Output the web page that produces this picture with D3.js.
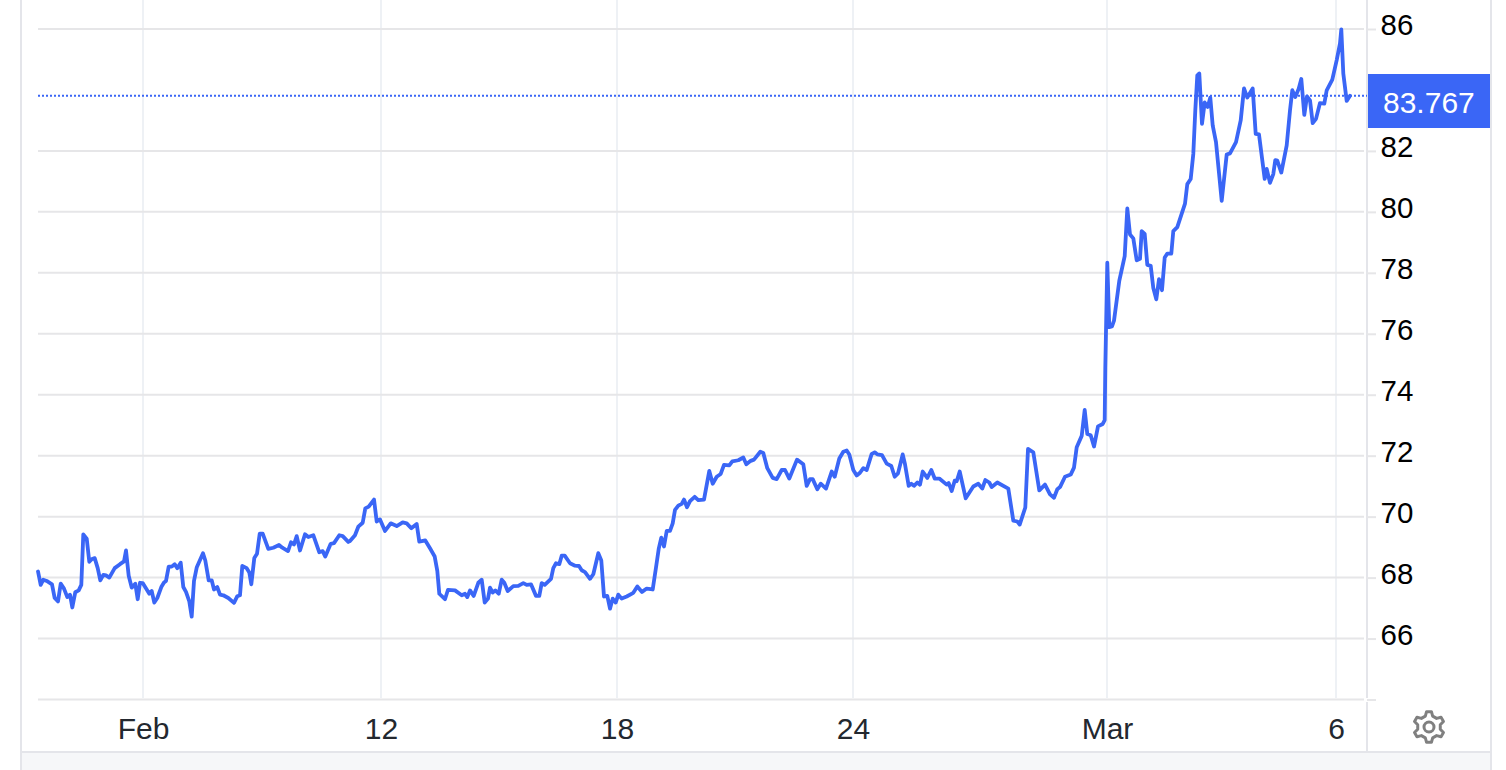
<!DOCTYPE html>
<html>
<head>
<meta charset="utf-8">
<script src="https://cdnjs.cloudflare.com/ajax/libs/d3/7.8.5/d3.min.js"></script>
<style>
html,body{margin:0;padding:0;background:#fff;overflow:hidden}
svg{display:block}
text{font-family:"Liberation Sans",Arial,sans-serif}
</style>
</head>
<body>
<svg id="chart" width="1506" height="770"></svg>
<script>
// time position of each sample, in chart time slots (irregular)
const slots = [0,2.7,5.3,8.7,14,16.7,20,22.7,26,29.3,32,34.3,37.3,40.7,43.3,45.3,48.7,51.3,54,56.7,59.7,62.3,65.3,68,71.3,76.7,82,86,88,90.7,93.7,97.3,99.7,102,104.7,108.7,111.3,113.7,116.3,119.3,123.3,126,128,130.7,133.7,136.7,139.3,142.7,145.3,148,151.3,153.7,156,158.7,165,167.3,170.7,173.7,176,179.3,182,185.3,190.3,196,199.3,202,204.3,208.7,211.3,213.3,216.3,219,221.7,224.7,230.3,235.3,241,244.3,250,253,256,258.7,262,267,270.3,275.3,281.3,284.7,287.3,292.7,296,301.3,304.7,310.3,
312,317,320.3,324.7,327.3,330.7,336,338.7,342,347,352.7,358.7,364.7,368.7,373.3,378.7,381.3,387.3,392,396.7,399.3,401.3,407,410,417,423.7,427,429.3,432,435.7,440.3,443.7,446.7,450,452,454.7,457.3,460.7,463.7,466.3,469.7,475.3,480.3,485.3,488.7,493,498,501.3,503.7,506.7,513,515.3,518,521.3,523.7,526.7,532,537,541,543.7,547,552,555.3,560.3,563.3,566,569.3,572,574.7,577.7,580.3,583.7,588.7,595.3,599.3,604,608.7,614.7,618,620.7,623.3,626,628.7,632,634.7,637,640.3,643.7,646,649,652,
656.7,660.3,666,671.3,674.7,678.7,682.7,686,691.3,694.3,700.3,705.3,708.3,712.7,716,722.3,725.3,729.3,734.7,738.7,743.7,747,751.3,759,765.3,768.7,772,774.7,779.3,782.7,788,793.7,796.7,801.3,805.3,808.7,811.3,815.3,818.7,822,825.3,828.7,833.7,837,839.3,844,848.7,853.3,856.7,860,864.7,867,870.7,873.3,876,879.3,882,884.7,889.3,893.3,896.7,901.3,908.7,910.7,913.7,916.7,918.7,921.7,927.7,935.3,940.3,944.3,947.3,951.3,953.7,959.3,970.3,975.3,979.3,981.7,987.3,990,995.3,1001.3,1007,1012,1016,1019.3,1022,1027,1032.7,1036,1038.7,1043.7,1046.7,1049.3,1052.7,
1056,1060,1064.7,1066.7,1067.3,1069.3,1071.3,1074,1076,1081.3,1086.7,1089.3,1092,1095.3,1098.7,1102,1103.7,1106.7,1109.3,1112.7,1115.3,1118.3,1121,1124,1126.7,1129.3,1133.3,1135.3,1139.3,
1147,1149.3,1152.7,1155.3,1157.3,1159.3,1161.3,1164,1166.7,1169.7,1172.3,1174.7,1178,1183.7,1188.7,1192,1198,1202.7,1206,1209.3,1214.7,1217.7,1221,1226.7,1228.7,1232,1235.3,1237.3,1239.3,1243.3,1248.7,1252,1254.3,1257.3,1260.7,1263.3,1266.3,1269,1272,1274.7,1278,1282,1286.3,1288.7,1294.3,1298.7,1302,1303.3,1305.3,1308.7,1312];

// price at each sample
const prices = [68.2,67.76,67.93,67.89,67.78,67.33,67.22,67.8,67.64,67.36,67.44,67.02,67.52,67.58,67.76,69.42,69.28,68.52,68.61,68.64,68.31,67.91,68.09,68.07,68.0,68.31,68.44,68.53,68.89,68.06,67.67,67.8,67.29,67.83,67.82,67.61,67.47,67.56,67.18,67.33,67.69,67.84,67.89,68.36,68.36,68.44,68.31,68.49,67.69,67.53,67.22,66.72,67.89,68.33,68.8,68.56,67.91,67.91,67.61,67.69,67.44,67.42,67.33,67.17,67.39,67.42,68.38,68.31,68.17,67.78,68.64,68.78,69.44,69.44,68.94,68.98,69.07,68.98,68.87,69.16,69.09,69.36,68.89,69.42,69.33,69.39,68.83,68.87,68.69,69.11,69.13,69.39,69.36,69.17,
69.2,69.39,69.67,69.8,70.27,70.33,70.56,69.84,69.91,69.53,69.78,69.69,69.81,69.78,69.62,69.76,69.18,69.22,68.96,68.69,68.22,67.47,67.29,67.6,67.58,67.42,67.47,67.36,67.58,67.4,67.83,67.93,67.18,67.31,67.67,67.51,67.58,67.47,67.93,67.83,67.56,67.72,67.73,67.82,67.76,67.78,67.4,67.4,67.82,67.76,67.96,68.31,68.47,68.44,68.72,68.72,68.47,68.39,68.38,68.24,68.18,67.96,68.11,68.8,68.56,67.38,67.4,66.98,67.31,67.18,67.44,67.31,67.38,67.5,67.71,67.53,67.64,67.61,68.33,68.94,69.31,69.02,69.53,69.53,69.78,70.22,70.36,70.42,70.56,70.31,70.51,
70.65,70.54,70.56,71.5,71.08,71.31,71.4,71.7,71.68,71.81,71.85,71.94,71.72,71.83,71.87,72.13,72.09,71.59,71.27,71.23,71.53,71.53,71.25,71.87,71.72,71.01,71.23,71.23,70.9,71.08,70.92,71.48,71.31,71.91,72.13,72.17,72.04,71.53,71.35,71.44,71.59,71.53,72.06,72.11,72.04,72.02,71.74,71.66,71.31,71.42,72.04,71.72,71.01,71.08,71.01,71.12,71.05,71.48,71.27,71.53,71.25,71.25,71.05,71.1,70.84,71.18,71.16,71.48,70.6,70.99,71.08,70.92,71.2,71.12,70.97,71.12,70.92,69.87,69.84,69.74,70.3,72.22,72.11,70.86,71.05,70.73,70.62,70.9,70.97,71.31,71.38,71.61,72.28,72.65,73.5,72.71,72.67,
72.3,72.96,73.04,73.17,74.9,78.33,76.22,76.24,76.43,77.74,78.55,80.11,79.26,79.13,78.41,78.46,79.37,79.28,78.26,78.23,77.5,77.13,77.79,77.43,78.5,78.63,78.63,79.37,79.5,
80.27,80.91,81.08,81.9,83.33,84.48,84.54,82.89,83.59,83.44,83.75,82.84,82.29,80.36,81.88,81.92,82.29,83,84.05,83.75,84.05,82.56,82.54,81.08,81.41,80.95,81.24,81.7,81.68,81.29,82.18,83.33,83.99,83.77,84.04,84.36,83.18,83.79,83.66,82.91,83.05,83.57,83.55,83.99,84.34,84.98,85.53,85.99,84.54,83.64,83.81];

const yGridValues = [86,82,80,78,76,74,72,70,68,66,64];
const yTickLabels = ["86","82","80","78","76","74","72","70","68","66",""];
const xTickSlots = [105,343,579,815,1069,1298];
const xTickLabels = ["Feb","12","18","24","Mar","6"];
const lastLabel = "83.767";

const BLUE = "#3a66f6", GRID = "#e6e6e8", VGRID = "#eef1f5", BORDER = "#e4e5ea";

const svg = d3.select("#chart");
const x = d3.scaleLinear().domain([0, d3.max(slots)]).range([38, 1350]);
const y = d3.scaleLinear().domain([64, 86]).range([699.5, 29]);

// panel frame
svg.append("rect").attr("x",22).attr("y",753).attr("width",1469).attr("height",17).attr("fill","#f6f7f9");
const frame = [[21,0,21,770],[1491,0,1491,770],[22,752,1491,752],[1367,0,1367,698],[1367,702,1367,752]];
svg.append("g").selectAll("line").data(frame).join("line")
  .attr("x1",d=>d[0]).attr("y1",d=>d[1]).attr("x2",d=>d[2]).attr("y2",d=>d[3])
  .attr("stroke",BORDER).attr("stroke-width",2);

// vertical grid
svg.append("g").selectAll("line").data(xTickSlots).join("line")
  .attr("x1",d=>x(d)).attr("x2",d=>x(d)).attr("y1",0).attr("y2",698)
  .attr("stroke",VGRID).attr("stroke-width",2);

// horizontal grid
svg.append("g").selectAll("line").data(yGridValues).join("line")
  .attr("x1",38).attr("x2",1364).attr("y1",d=>y(d)).attr("y2",d=>y(d))
  .attr("stroke",GRID).attr("stroke-width",2);

// right axis
const yAxis = svg.append("g").attr("transform","translate(1367,0)")
  .call(d3.axisRight(y).tickValues(yGridValues).tickSize(9).tickPadding(4.5)
    .tickFormat((d,i)=>yTickLabels[i]));
yAxis.select(".domain").remove();
yAxis.selectAll("line").attr("stroke",GRID).attr("stroke-width",2);
yAxis.selectAll("text").attr("font-size",29.5).attr("fill","#000").attr("dy","0.2em")
  .attr("font-family","'Liberation Sans',Arial,sans-serif");

// bottom axis
const xAxis = svg.append("g").attr("transform","translate(0,699)")
  .call(d3.axisBottom(x).tickValues(xTickSlots).tickSize(0).tickPadding(0)
    .tickFormat((d,i)=>xTickLabels[i]));
xAxis.select(".domain").remove();
xAxis.selectAll("text").attr("font-size",30).attr("fill","#23282f").attr("y",40).attr("dy",0)
  .attr("font-family","'Liberation Sans',Arial,sans-serif");

// last price dotted line
const lastY = y(prices[prices.length-1]);
svg.append("line").attr("x1",38).attr("x2",1367).attr("y1",lastY).attr("y2",lastY)
  .attr("stroke",BLUE).attr("stroke-width",2).attr("stroke-dasharray","2 2");

// price line
const line = d3.line().x((d,i)=>x(slots[i])).y(d=>y(d)).curve(d3.curveLinear);
svg.append("path").datum(prices).attr("d",line).attr("fill","none")
  .attr("stroke",BLUE).attr("stroke-width",3.8).attr("stroke-linejoin","round").attr("stroke-linecap","round");

// last price label
svg.append("rect").attr("x",1368).attr("y",74).attr("width",122).attr("height",54).attr("fill",BLUE);
svg.append("text").attr("x",1383).attr("y",113).attr("font-size",30).attr("fill","#fff").text(lastLabel);

// gear icon
const teeth = 6, gearPts = [];
const R1 = 15.5, R2 = 11.5;
for (let i=0;i<teeth;i++){
  const a = -Math.PI/2 + i*2*Math.PI/teeth, s = Math.PI/teeth;
  [[R2,-0.62],[R1,-0.3],[R1,0.3],[R2,0.62]].forEach(([r,f])=>{
    gearPts.push([r*Math.cos(a+f*s), r*Math.sin(a+f*s)]);
  });
}
const gear = svg.append("g").attr("transform","translate(1429,727)")
  .attr("fill","none").attr("stroke","#808080").attr("stroke-width",3).attr("stroke-linejoin","round");
gear.append("path").attr("d",d3.line().curve(d3.curveLinearClosed)(gearPts));
gear.append("circle").attr("r",5);
</script>
</body>
</html>
